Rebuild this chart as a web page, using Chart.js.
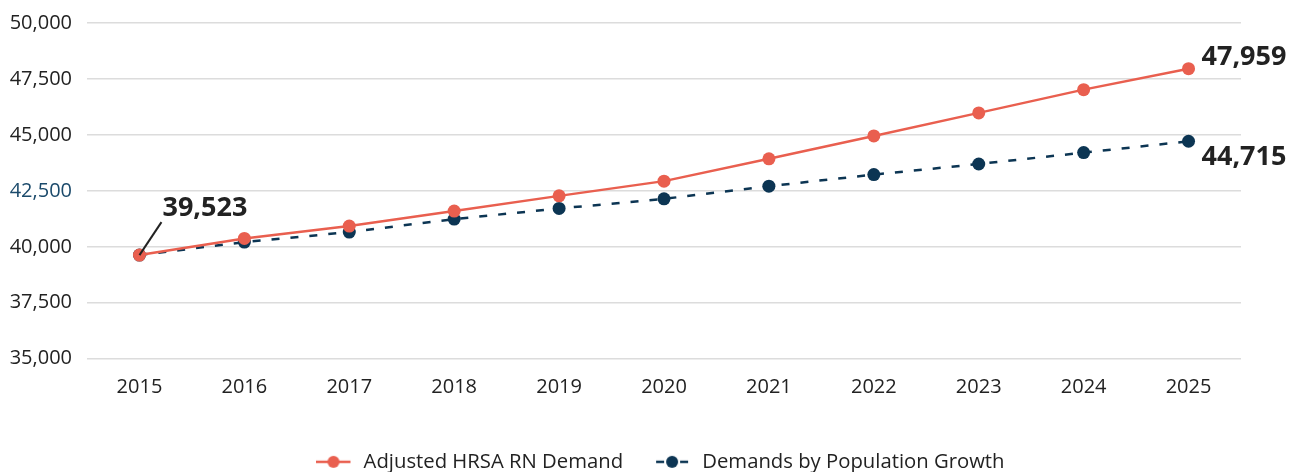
<!DOCTYPE html>
<html>
<head>
<meta charset="utf-8">
<script src="https://cdn.jsdelivr.net/npm/chart.js@4.4.1/dist/chart.umd.min.js"></script>
<style>
  html, body { margin: 0; padding: 0; background: #fff; }
  #wrap { width: 1299px; height: 472px; position: relative; }
</style>
</head>
<body>
<div id="wrap"><canvas id="grafico"></canvas></div>
<script>
// dados
const anos = ['2015', '2016', '2017', '2018', '2019', '2020', '2021', '2022', '2023', '2024', '2025'];
const demandaHrsa = [39630, 40375, 40926, 41597, 42276, 42934, 43931, 44955, 45984, 47023, 47959];
const demandaPopulacao = [39630, 40210, 40657, 41239, 41713, 42142, 42710, 43225, 43700, 44208, 44715];
const rotulosDestaque = ['39,523', '47,959', '44,715'];
const nomesSeries = ['Adjusted HRSA RN Demand', 'Demands by Population Growth'];

const VERMELHO = '#e95f4f';
const AZUL = '#0c3553';

// marcador da legenda: linha + bolinha
function marcadorLegenda(cor, tracejado) {
  const c = document.createElement('canvas');
  c.width = 37; c.height = 14;
  const g = c.getContext('2d');
  g.strokeStyle = cor;
  g.lineWidth = 2.5;
  g.beginPath();
  if (tracejado) {
    g.moveTo(1, 7); g.lineTo(9, 7);
    g.moveTo(25, 7); g.lineTo(33, 7);
  } else {
    g.moveTo(0, 7); g.lineTo(34, 7);
  }
  g.stroke();
  g.fillStyle = cor;
  g.beginPath();
  g.arc(17, 7, 6, 0, Math.PI * 2);
  g.fill();
  return c;
}

// plugin para os rótulos em negrito
const rotulos = {
  id: 'rotulos',
  afterLayout(chart) {
    // legenda centrada na área do gráfico, não no canvas
    if (chart.legend) {
      chart.legend.left += 40;
      chart.legend.right += 40;
    }
  },
  afterDatasetsDraw(chart) {
    const ctx = chart.ctx;
    const m0 = chart.getDatasetMeta(0).data;
    const m1 = chart.getDatasetMeta(1).data;
    ctx.save();
    ctx.font = 'bold 27px "Open Sans"';
    ctx.fillStyle = '#222';
    ctx.textBaseline = 'middle';
    ctx.textAlign = 'left';

    const p0 = m0[0];
    ctx.strokeStyle = '#222';
    ctx.lineWidth = 2;
    ctx.beginPath();
    ctx.moveTo(p0.x, p0.y);
    ctx.lineTo(p0.x + 22, p0.y - 33);
    ctx.stroke();
    ctx.fillText(rotulosDestaque[0], p0.x + 23, p0.y - 47);

    const pA = m0[m0.length - 1];
    ctx.fillText(rotulosDestaque[1], pA.x + 13, pA.y - 11);
    const pB = m1[m1.length - 1];
    ctx.fillText(rotulosDestaque[2], pB.x + 13, pB.y + 16);
    ctx.restore();
  }
};

const ctx = document.getElementById('grafico').getContext('2d');

new Chart(ctx, {
  type: 'line',
  data: {
    labels: anos,
    datasets: [{
      label: nomesSeries[0],
      data: demandaHrsa,
      borderColor: VERMELHO,
      backgroundColor: VERMELHO,
      borderWidth: 2.5,
      pointRadius: 6.5,
      pointHoverRadius: 6.5,
      pointBorderWidth: 0,
      tension: 0,
      order: 0
    }, {
      label: nomesSeries[1],
      data: demandaPopulacao,
      borderColor: AZUL,
      backgroundColor: AZUL,
      borderWidth: 2.5,
      borderDash: [8, 11],
      pointRadius: 6.5,
      pointHoverRadius: 6.5,
      pointBorderWidth: 0,
      tension: 0,
      order: 1
    }]
  },
  options: {
    responsive: true,
    maintainAspectRatio: false,
    animation: false,
    layout: { padding: { top: 0, right: 58, left: 0, bottom: -10 } },
    scales: {
      x: {
        offset: true,
        grid: { display: false, drawTicks: false },
        border: { display: false },
        afterFit: s => { s.height += 3; },
        ticks: {
          color: '#222',
          font: { family: 'Open Sans', size: 20 },
          padding: 17
        }
      },
      y: {
        min: 35000,
        max: 50000,
        grid: { color: '#dcdcdc', lineWidth: 1.5, drawTicks: false },
        border: { display: false },
        afterFit: s => { s.width = 87; s.paddingTop = 23; },
        ticks: {
          stepSize: 2500,
          padding: 15,
          font: { family: 'Open Sans', size: 20 },
          color: c => c.tick && c.tick.value === 42500 ? '#1b4a6b' : '#222',
          callback: v => v.toLocaleString('en-US')
        }
      }
    },
    plugins: {
      tooltip: { enabled: false },
      legend: {
        position: 'bottom',
        labels: {
          usePointStyle: true,
          pointStyleWidth: 37,
          boxHeight: 14,
          padding: 32,
          color: '#222',
          font: { family: 'Open Sans', size: 20.3 },
          generateLabels: chart => {
            const itens = Chart.defaults.plugins.legend.labels.generateLabels(chart);
            itens[0].pointStyle = marcadorLegenda(VERMELHO, false);
            itens[1].pointStyle = marcadorLegenda(AZUL, true);
            return itens;
          }
        }
      }
    }
  },
  plugins: [rotulos]
});
</script>
</body>
</html>
